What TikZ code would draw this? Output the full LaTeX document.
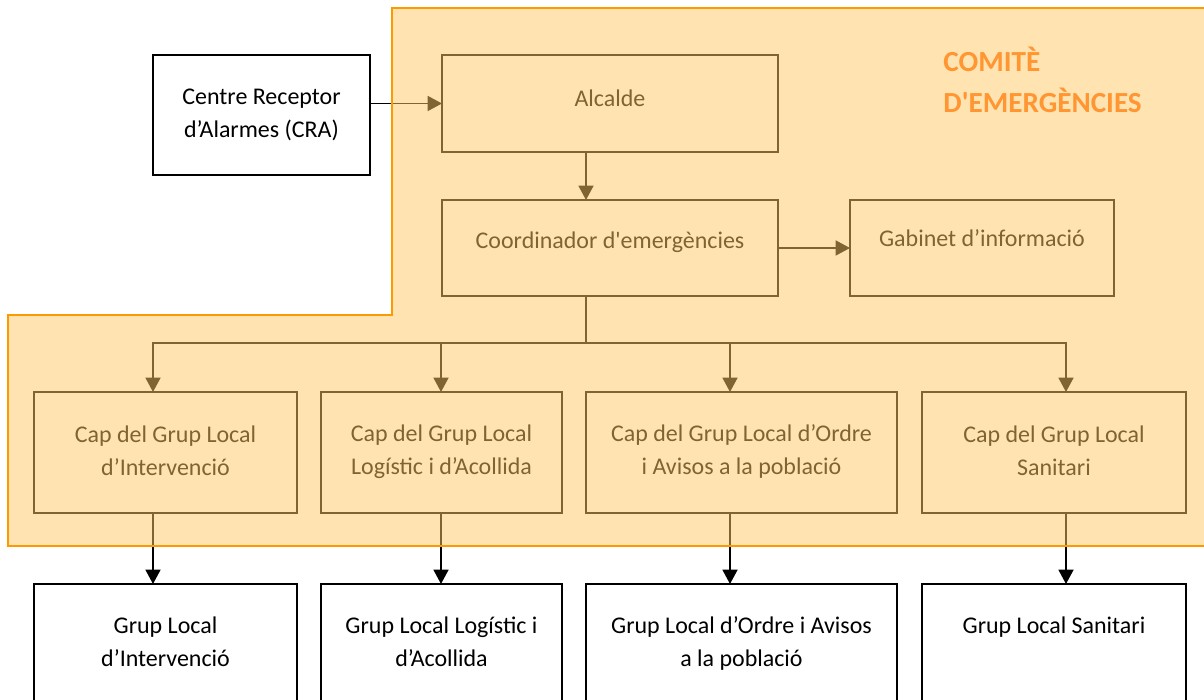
\documentclass[tikz,border=0pt]{standalone}
\usepackage{fontspec}
\setmainfont{Carlito}[Ligatures=TeXOff]
\usetikzlibrary{arrows.meta}
\definecolor{cfill}{RGB}{255,200,100}
\definecolor{cedge}{RGB}{255,153,0}
\definecolor{ctitle}{RGB}{255,150,50}

\begin{document}
\begin{tikzpicture}[x=0.48pt,y=-0.48pt,
  sz/.style 2 args={minimum width=#1*0.48pt,minimum height=#2*0.48pt},
  lift/.style={text depth=#1pt},
  unit/.style={draw,line width=0.8pt,inner sep=0pt,outer sep=0pt,align=center,
    font=\fontsize{11.5}{15.8}\selectfont},
  link/.style={line width=0.8pt,-{Triangle[width=7.2pt,length=6.9pt]}},
  bus/.style={line width=0.8pt,line cap=rect}]
\useasboundingbox (0,0) rectangle (1204,700);
\clip (0,0) rectangle (1204,700);

% upper boxes
\node[unit,sz={217}{120}]         (cra)   at (261.5,115)  {Centre Receptor\\d’Alarmes (CRA)};
\node[unit,sz={336}{97},lift=4.8] (alc)   at (610,103.5)  {Alcalde};
\node[unit,sz={336}{96},lift=7.2] (coord) at (610,248)    {Coordinador d'emergències};
\node[unit,sz={264}{96},lift=9.1] (gab)   at (982,248)    {Gabinet d’informació};

% heads of the groups
\node[unit,sz={263}{121},lift=2]   (cap1) at (165.5,452.5) {Cap del Grup Local\\d’Intervenció};
\node[unit,sz={241}{121},lift=2.6] (cap2) at (441.5,452.5) {Cap del Grup Local\\Logístic i d’Acollida};
\node[unit,sz={311}{121},lift=2.6] (cap3) at (741.5,452.5) {Cap del Grup Local d’Ordre\\i Avisos a la població};
\node[unit,sz={264}{121},lift=2]   (cap4) at (1054,452.5)  {Cap del Grup Local\\Sanitari};

% groups
\node[unit,sz={263}{122},lift=2.9] (grp1) at (165.5,645) {Grup Local\\d’Intervenció};
\node[unit,sz={241}{122},lift=2.9] (grp2) at (441.5,645) {Grup Local Logístic i\\d’Acollida};
\node[unit,sz={311}{122},lift=3.2] (grp3) at (741.5,645) {Grup Local d’Ordre i Avisos\\a la població};
\node[unit,sz={264}{122},lift=2.9] (grp4) at (1054,645)  {Grup Local Sanitari\\~};

% connectors
\coordinate (spine) at (586,343);
\coordinate (b1) at (153,343);
\coordinate (b2) at (441,343);
\coordinate (b3) at (730,343);
\coordinate (b4) at (1066,343);

\draw[link] (cra.east |- alc.west) -- (alc.west);
\draw[link] (alc.south -| spine) -- (coord.north -| spine);
\draw[link] (coord.east) -- (gab.west);
\draw[bus] (coord.south -| spine) -- (spine);
\draw[bus] (b1) -- (b4);
\foreach \i in {1,...,4} {
  \draw[link] (b\i) -- (cap\i.north -| b\i);
  \draw[link] (cap\i.south -| b\i) -- (grp\i.north -| b\i);
}

% committee area
\fill[cfill,fill opacity=0.5] (392,8) -- (1212,8) -- (1212,546) -- (8,546) -- (8,315) -- (392,315) -- cycle;
\draw[cedge,line width=1pt] (392,8) -- (1212,8) -- (1212,546) -- (8,546) -- (8,315) -- (392,315) -- cycle;
\node[anchor=base west,inner sep=0pt,align=left,text=ctitle,
  font=\fontsize{14}{19.7}\selectfont\bfseries] (title) at (943,113) {COMITÈ\\D'EMERGÈNCIES};
\end{tikzpicture}
\end{document}
